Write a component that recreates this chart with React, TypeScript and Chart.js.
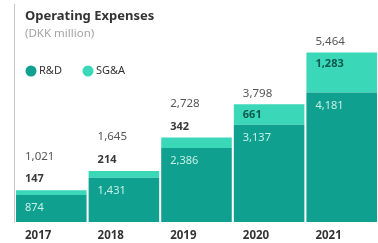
import React, { useEffect, useRef } from "react";
import { Chart, registerables } from "chart.js";

Chart.register(...registerables);

const years = ["2017", "2018", "2019", "2020", "2021"];
const rdValues = [874, 1431, 2386, 3137, 4181];
const sgaValues = [147, 214, 342, 661, 1283];
const totals = [1021, 1645, 2728, 3798, 5464];
const seriesNames = ["R&D", "SG&A"];
const titleText = "Operating Expenses";
const subtitleText = "(DKK million)";

const DARK = "#10a08f";
const LIGHT = "#3ad8b8";
const FONT = "'Noto Sans', 'Open Sans', sans-serif";

const fmt = (v: number) => v.toLocaleString("en-US");

const labelPlugin = {
  id: "customLabels",
  afterDatasetsDraw(chart: any) {
    const ctx = chart.ctx;
    const area = chart.chartArea;
    ctx.save();
    // left rule
    ctx.strokeStyle = "#c9c9c9";
    ctx.lineWidth = 1;
    ctx.beginPath();
    ctx.moveTo(14.5, 4);
    ctx.lineTo(14.5, area.bottom + 1);
    ctx.stroke();

    ctx.textBaseline = "middle";
    ctx.textAlign = "left";
    // title
    ctx.fillStyle = "#333333";
    ctx.font = `bold 13px ${FONT}`;
    ctx.fillText(titleText, 25, 16);
    ctx.fillStyle = "#a3a3a3";
    ctx.font = `11.5px ${FONT}`;
    ctx.fillText(subtitleText, 25, 34);

    // legend
    const legendItems = [
      { x: 31, color: DARK, text: seriesNames[0] },
      { x: 88, color: LIGHT, text: seriesNames[1] },
    ];
    ctx.font = `11px ${FONT}`;
    legendItems.forEach((it) => {
      ctx.fillStyle = it.color;
      ctx.beginPath();
      ctx.arc(it.x, 71, 5.5, 0, Math.PI * 2);
      ctx.fill();
      ctx.fillStyle = "#333333";
      ctx.fillText(it.text, it.x + 8, 71);
    });

    const m0 = chart.getDatasetMeta(0);
    const m1 = chart.getDatasetMeta(1);
    years.forEach((yr, i) => {
      const rd = m0.data[i];
      const sg = m1.data[i];
      const left = rd.x - rd.width / 2 + 9;
      // R&D label
      ctx.fillStyle = "#c4f0e7";
      ctx.font = `11px ${FONT}`;
      ctx.fillText(fmt(rdValues[i]), left, rd.y + 13);
      const sgHeight = sg.base - sg.y;
      let totalY;
      if (sgHeight > 20) {
        ctx.fillStyle = "#0b5a4f";
        ctx.font = `bold 11px ${FONT}`;
        ctx.fillText(fmt(sgaValues[i]), left, sg.y + 11);
        totalY = sg.y - 11;
      } else {
        ctx.fillStyle = "#3a3a3a";
        ctx.font = `bold 11px ${FONT}`;
        ctx.fillText(fmt(sgaValues[i]), left, sg.y - 11);
        totalY = sg.y - 34;
      }
      ctx.fillStyle = "#555555";
      ctx.font = `11.5px ${FONT}`;
      ctx.fillText(fmt(totals[i]), left, totalY);
      // year label
      ctx.fillStyle = "#333333";
      ctx.font = `bold 11.5px ${FONT}`;
      ctx.fillText(yr, left, 236);
    });
    ctx.restore();
  },
};

export default function App() {
  const ref = useRef<HTMLCanvasElement | null>(null);
  useEffect(() => {
    if (!ref.current) return;
    const chart = new Chart(ref.current, {
      type: "bar",
      data: {
        labels: years,
        datasets: [
          { label: seriesNames[0], data: rdValues, backgroundColor: DARK, borderWidth: 0 },
          { label: seriesNames[1], data: sgaValues, backgroundColor: LIGHT, borderWidth: 0 },
        ],
      },
      options: {
        responsive: false,
        animation: false,
        layout: { padding: { left: 15, right: 0, top: 5, bottom: 21 } },
        datasets: { bar: { categoryPercentage: 1, barPercentage: 0.972 } },
        plugins: { legend: { display: false }, tooltip: { enabled: false }, title: { display: false } },
        scales: {
          x: { stacked: true, display: false, offset: true, grid: { display: false } },
          y: { stacked: true, display: false, min: 0, max: 7000 },
        },
      },
      plugins: [labelPlugin],
    });
    return () => chart.destroy();
  }, []);
  return (
    <div style={{ position: "fixed", left: 0, top: 0, width: 378, height: 243, background: "#fff" }}>
      <canvas ref={ref} width={378} height={243} style={{ display: "block" }} />
    </div>
  );
}
